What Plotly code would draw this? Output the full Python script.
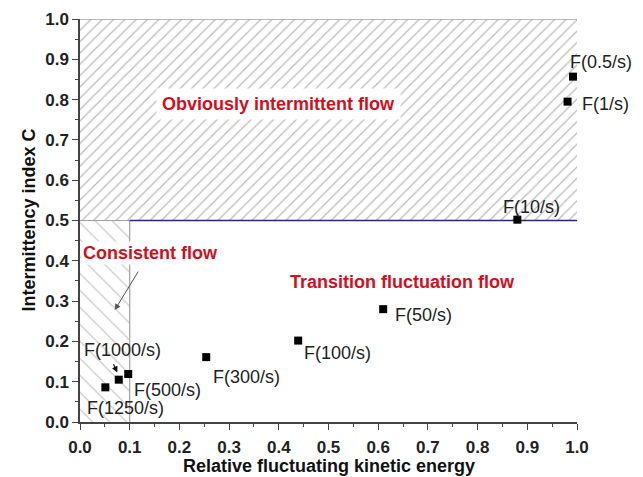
import plotly.graph_objects as go

# Data
labels = ["F(0.5/s)", "F(1/s)", "F(10/s)", "F(50/s)", "F(100/s)", "F(300/s)",
          "F(500/s)", "F(1000/s)", "F(1250/s)"]
x_vals = [0.992, 0.981, 0.880, 0.610, 0.439, 0.254, 0.097, 0.078, 0.051]
y_vals = [0.857, 0.795, 0.502, 0.280, 0.202, 0.161, 0.119, 0.105, 0.086]
# label text positions (left edge, data coords)
lab_x = [0.982, 1.006, 0.847, 0.630, 0.447, 0.264, 0.105, 0.004, 0.010]
lab_y = [0.893, 0.790, 0.533, 0.265, 0.171, 0.112, 0.079, 0.179, 0.035]

x_title = "Relative fluctuating kinetic energy"
y_title = "Intermittency index C"

FONT = "Liberation Sans, Arial, sans-serif"

fig = go.Figure()

# Upper hatched region: obviously intermittent flow
fig.add_trace(go.Scatter(
    x=[0, 1, 1, 0, 0], y=[0.5, 0.5, 1, 1, 0.5], mode="lines",
    fill="toself", fillcolor="white",
    fillpattern=dict(shape="/", fgcolor="#7a7a80", bgcolor="white", size=8, solidity=0.16),
    line=dict(color="rgba(0,0,0,0)", width=0), hoverinfo="skip", showlegend=False))
# Lower-left hatched region: consistent flow
fig.add_trace(go.Scatter(
    x=[0, 0.1, 0.1, 0, 0], y=[0, 0, 0.5, 0.5, 0], mode="lines",
    fill="toself", fillcolor="white",
    fillpattern=dict(shape="\\", fgcolor="#8a8a8a", bgcolor="white", size=12, solidity=0.1),
    line=dict(color="rgba(0,0,0,0)", width=0), hoverinfo="skip", showlegend=False))

# Borders
fig.add_trace(go.Scatter(x=[0, 1], y=[1, 1], mode="lines", line=dict(color="#a0a0a8", width=1.5),
                         hoverinfo="skip", showlegend=False, cliponaxis=False))
fig.add_trace(go.Scatter(x=[0.1, 0.1], y=[0, 0.5], mode="lines", line=dict(color="#a0a0a0", width=1.2),
                         hoverinfo="skip", showlegend=False))
fig.add_trace(go.Scatter(x=[0, 0.1], y=[0.5, 0.5], mode="lines", line=dict(color="#a0a0a0", width=1.2),
                         hoverinfo="skip", showlegend=False))
fig.add_trace(go.Scatter(x=[0.1, 1], y=[0.5, 0.5], mode="lines", line=dict(color="#2a2a6e", width=1.5),
                         hoverinfo="skip", showlegend=False))

# Points
fig.add_trace(go.Scatter(x=x_vals, y=y_vals, mode="markers",
                         marker=dict(symbol="square", size=8, color="black"),
                         showlegend=False, cliponaxis=False))

# Point labels (paper coords coincide with data coords since both ranges are [0, 1])
for lx, ly, t in zip(lab_x, lab_y, labels):
    fig.add_annotation(x=lx, y=ly, xref="paper", yref="paper", text=t, showarrow=False,
                       xanchor="left", yanchor="middle",
                       font=dict(family=FONT, size=18, color="#222"))

# Region labels
fig.add_annotation(x=0.40, y=0.79, text="<b>Obviously intermittent flow</b>", showarrow=False,
                   font=dict(family=FONT, size=18, color="#d0101c"), bgcolor="white", borderpad=5)
fig.add_annotation(x=0.141, y=0.42, text="<b>Consistent flow</b>", showarrow=False,
                   font=dict(family=FONT, size=18, color="#d0101c"), bgcolor="white")
fig.add_annotation(x=0.648, y=0.347, text="<b>Transition fluctuation flow</b>", showarrow=False,
                   font=dict(family=FONT, size=18, color="#d0101c"))

# Arrows
fig.add_annotation(x=0.070, y=0.278, ax=0.119, ay=0.377, xref="x", yref="y", axref="x", ayref="y",
                   text="", showarrow=True, arrowhead=2, arrowsize=1.2, arrowwidth=1, arrowcolor="#555")
fig.add_annotation(x=0.075, y=0.123, ax=0.066, ay=0.147, xref="x", yref="y", axref="x", ayref="y",
                   text="", showarrow=True, arrowhead=2, arrowsize=1, arrowwidth=1.2, arrowcolor="#111")

# Axis titles
fig.add_annotation(x=0.5, y=0, xref="paper", yref="paper", yshift=-44, text="<b>" + x_title + "</b>",
                   showarrow=False, xanchor="center", yanchor="middle",
                   font=dict(family=FONT, size=18, color="#111"))
fig.add_annotation(x=0, y=0.5, xref="paper", yref="paper", xshift=-52, text="<b>" + y_title + "</b>",
                   showarrow=False, xanchor="center", yanchor="middle", textangle=-90,
                   font=dict(family=FONT, size=18, color="#111"))

axis_common = dict(
    showgrid=False, zeroline=False, showline=True, linecolor="#444", linewidth=1.5,
    ticks="outside", ticklen=6, tickwidth=1.3, tickcolor="#444",
    tickfont=dict(family=FONT, size=17, color="#222", weight="bold"),
    minor=dict(ticks="outside", ticklen=3, tickwidth=1, tickcolor="#444", dtick=0.05),
    range=[0, 1], dtick=0.1, tickformat=".1f", mirror=False, automargin=False,
)

fig.update_xaxes(**axis_common, ticklabelstandoff=3)
fig.update_yaxes(**axis_common)

fig.update_layout(
    width=643, height=477,
    margin=dict(l=80, r=66, t=19, b=55),
    plot_bgcolor="white", paper_bgcolor="white",
)

fig.write_html("out.html")
